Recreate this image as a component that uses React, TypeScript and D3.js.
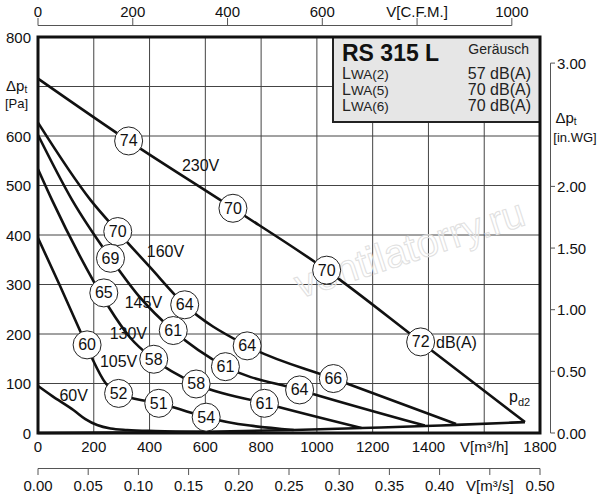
import React from 'react';
import * as d3 from 'd3';

// chart values (flow in m3/h, pressure in Pa)
const flowTicks = [0, 200, 400, 600, 800, 1000, 1200, 1400, 1600, 1800];
const flowLabels = ['0', '200', '400', '600', '800', '1000', '1200', '1400', 'V[m³/h]', '1800'];
const paTicks = [0, 100, 200, 300, 400, 500, 600, 700, 800];
const cfmTicks = [0, 200, 400, 600, 800, 1000];
const cfmLabels = ['0', '200', '400', '600', 'V[C.F.M.]', '1000'];
const m3sTicks = [0, 0.05, 0.1, 0.15, 0.2, 0.25, 0.3, 0.35, 0.4, 0.45, 0.5];
const m3sLabels = ['0.00', '0.05', '0.10', '0.15', '0.20', '0.25', '0.30', '0.35', '0.40', 'V[m³/s]', '0.50'];
const inwgTicks = [0, 0.5, 1, 1.5, 2, 3];
const inwgLabels = ['0.00', '0.50', '1.00', '1.50', '2.00', '3.00'];

const flow230 = [0, 325, 699, 1035, 1372, 1746];
const pa230 = [716, 590, 454, 329, 184, 22];
const flow160 = [0, 188, 286, 400, 526, 750, 1059, 1499];
const pa160 = [627, 471, 407, 336, 259, 176, 110, 18];
const flow145 = [0, 122, 260, 361, 485, 672, 938, 1387];
const pa145 = [602, 471, 353, 277, 207, 134, 87, 15];
const flow130 = [0, 50, 200, 253, 330, 415, 567, 812, 1160];
const pa130 = [533, 471, 306, 255, 193, 149, 99, 60, 10];
const flow105 = [0, 80, 152, 194, 242, 289, 331, 385, 433, 520, 603, 917];
const pa105 = [394, 296, 205, 151, 101, 80, 71, 65, 60, 46, 32, 6];
const flow60 = [0, 50, 128, 170, 212, 260, 320, 420, 600];
const pa60 = [95, 75, 46, 28, 16, 9, 6, 4, 2.6];
const flowPd2 = [0, 300, 600, 917, 1160, 1387, 1499, 1746];
const paPd2 = [0, 0.7, 2.6, 6, 10, 14, 16.5, 22];

const curveNames = ['230V', '160V', '145V', '130V', '105V', '60V'];
const curveFlows = [flow230, flow160, flow145, flow130, flow105, flow60];
const curvePas = [pa230, pa160, pa145, pa130, pa105, pa60];
// where each voltage label sits (flow, pa)
const voltLabelFlow = [583, 457, 378, 324, 289, 128];
const voltLabelPa = [541, 366, 263, 202, 144, 75];

// sound level markers
const dbValues = ['74', '70', '70', '72', '70', '64', '64', '66', '69', '61', '61', '64', '65', '58', '58', '61', '60', '52', '51', '54'];
const dbFlow = [325, 699, 1035, 1372, 286, 526, 750, 1059, 260, 485, 672, 938, 236, 415, 567, 812, 176, 289, 433, 603];
const dbPa = [590, 454, 329, 184, 407, 259, 176, 110, 353, 207, 134, 87, 283, 149, 99, 60, 178, 80, 60, 32];

const boxRows = ['(2)', '(5)', '(6)'];
const boxValues = ['57 dB(A)', '70 dB(A)', '70 dB(A)'];

const FONT = "'Liberation Sans', Arial, sans-serif";
const PA_PER_INWG = 249.09;
const M3H_PER_CFM = 1.699;

const App: React.FC = () => {
  const x = d3.scaleLinear().domain([0, 1800]).range([38, 540]);
  const y = d3.scaleLinear().domain([0, 800]).range([433, 37]);
  const xCfm = d3.scaleLinear().domain([0, 1800 / M3H_PER_CFM]).range([38, 540]);
  const xM3s = d3.scaleLinear().domain([0, 0.5]).range([38, 540]);
  const yIn = d3.scaleLinear().domain([0, 800 / PA_PER_INWG]).range([433, 37]);

  const line = d3.line<[number, number]>()
    .x(d => x(d[0]))
    .y(d => y(d[1]))
    .curve(d3.curveMonotoneX);

  const x0 = x(0), x1 = x(1800), yTop = y(800), yBot = y(0);

  return (
    <svg width={600} height={500} style={{ position: 'absolute', left: 0, top: 0, background: '#fff' }}
      fontFamily={FONT}>
      {/* grid */}
      {flowTicks.slice(1, -1).map(t => (
        <line key={'gx' + t} x1={x(t)} x2={x(t)} y1={yTop} y2={yBot} stroke="#444" strokeWidth={1} />
      ))}
      {paTicks.slice(1, -1).map(t => (
        <line key={'gy' + t} x1={x0} x2={x1} y1={y(t)} y2={y(t)} stroke="#444" strokeWidth={1} />
      ))}

      {/* watermark */}
      <text x={410} y={262} transform="rotate(-18 410 250)" textAnchor="middle" fontSize={40}
        fill="#fff" fillOpacity={0.4} stroke="#e0e0e0" strokeWidth={1}>ventilatorry.ru</text>

      {/* fan curves */}
      {curveFlows.map((fl, i) => (
        <path key={'c' + i} d={line(fl.map((f, j) => [f, curvePas[i][j]]) as [number, number][]) || ''}
          fill="none" stroke="#111" strokeWidth={2.6} strokeLinejoin="round" />
      ))}
      <path d={line(flowPd2.map((f, j) => [f, paPd2[j]]) as [number, number][]) || ''}
        fill="none" stroke="#111" strokeWidth={2.6} />

      {/* voltage labels */}
      {curveNames.map((n, i) => (
        <text key={'v' + n} x={x(voltLabelFlow[i])} y={y(voltLabelPa[i])} textAnchor="middle"
          dominantBaseline="central" fontSize={16} fill="#111">{n}</text>
      ))}

      {/* dB markers */}
      {dbValues.map((v, i) => (
        <g key={'db' + i} transform={`translate(${x(dbFlow[i])},${y(dbPa[i])})`}>
          <circle r={14} fill="#fff" stroke="#222" strokeWidth={1} />
          <text textAnchor="middle" dominantBaseline="central" fontSize={16} fill="#111">{v}</text>
        </g>
      ))}
      <text x={436} y={y(182)} dominantBaseline="central" fontSize={16} fill="#111">dB(A)</text>
      <text x={509} y={402} fontSize={16} fill="#111">p<tspan fontSize={11} dy={4}>d2</tspan></text>

      {/* info box */}
      <rect x={333} y={yTop} width={x1 - 333} height={122 - yTop} fill="#e6e6e6" stroke="#222" strokeWidth={2} />
      <text x={342} y={61} fontSize={23} fontWeight="bold" fill="#111">RS 315 L</text>
      <text x={529} y={54} textAnchor="end" fontSize={14} fill="#222">Geräusch</text>
      {boxRows.map((r, i) => (
        <g key={'row' + i}>
          <text x={342} y={79 + i * 16} fontSize={16} fill="#222">L<tspan fontSize={13.5}>WA{r}</tspan></text>
          <text x={531} y={79 + i * 16} textAnchor="end" fontSize={16} fill="#222">{boxValues[i]}</text>
        </g>
      ))}

      {/* frame */}
      <rect x={x0} y={yTop} width={x1 - x0} height={yBot - yTop} fill="none" stroke="#111" strokeWidth={3} />

      {/* left axis labels (Pa) */}
      {paTicks.map(t => t === 700 ? null : (
        <text key={'ly' + t} x={31} y={y(t)} textAnchor="end" dominantBaseline="central" fontSize={15} fill="#111">{t}</text>
      ))}
      <text x={6} y={85} dominantBaseline="central" fontSize={15} fill="#111">Δp<tspan fontSize={10} dy={4}>t</tspan></text>
      <text x={5} y={103} dominantBaseline="central" fontSize={13} fill="#111">[Pa]</text>

      {/* bottom labels (m3/h) */}
      {flowTicks.map((t, i) => (
        <text key={'bx' + t} x={x(t)} y={446} textAnchor="middle" dominantBaseline="central" fontSize={15} fill="#111">
          {flowLabels[i]}
        </text>
      ))}

      {/* top CFM axis */}
      <line x1={xCfm(0)} x2={xCfm(1000)} y1={25.5} y2={25.5} stroke="#555" strokeWidth={1} />
      {cfmTicks.map((t, i) => (
        <g key={'cfm' + t}>
          <line x1={xCfm(t)} x2={xCfm(t)} y1={25.5} y2={18} stroke="#555" strokeWidth={1} />
          <text x={xCfm(t)} y={11} textAnchor="middle" dominantBaseline="central" fontSize={15} fill="#111">{cfmLabels[i]}</text>
        </g>
      ))}

      {/* bottom m3/s axis */}
      <line x1={xM3s(0)} x2={xM3s(0.5)} y1={468.5} y2={468.5} stroke="#555" strokeWidth={1} />
      {m3sTicks.map((t, i) => (
        <g key={'ms' + i}>
          <line x1={xM3s(t)} x2={xM3s(t)} y1={468.5} y2={475} stroke="#555" strokeWidth={1} />
          <text x={xM3s(t)} y={485} textAnchor="middle" dominantBaseline="central" fontSize={15} fill="#111">{m3sLabels[i]}</text>
        </g>
      ))}

      {/* right in.WG axis */}
      <line x1={550.5} x2={550.5} y1={yIn(3)} y2={yIn(0)} stroke="#555" strokeWidth={1} />
      {inwgTicks.map((t, i) => (
        <g key={'iw' + i}>
          <line x1={550.5} x2={555} y1={yIn(t)} y2={yIn(t)} stroke="#555" strokeWidth={1} />
          <text x={557} y={yIn(t)} dominantBaseline="central" fontSize={15} fill="#111">{inwgLabels[i]}</text>
        </g>
      ))}
      <text x={566} y={117} textAnchor="middle" dominantBaseline="central" fontSize={15} fill="#111">Δp<tspan fontSize={10} dy={4}>t</tspan></text>
      <text x={575} y={137} textAnchor="middle" dominantBaseline="central" fontSize={13} fill="#111">[in.WG]</text>
    </svg>
  );
};

export default App;
